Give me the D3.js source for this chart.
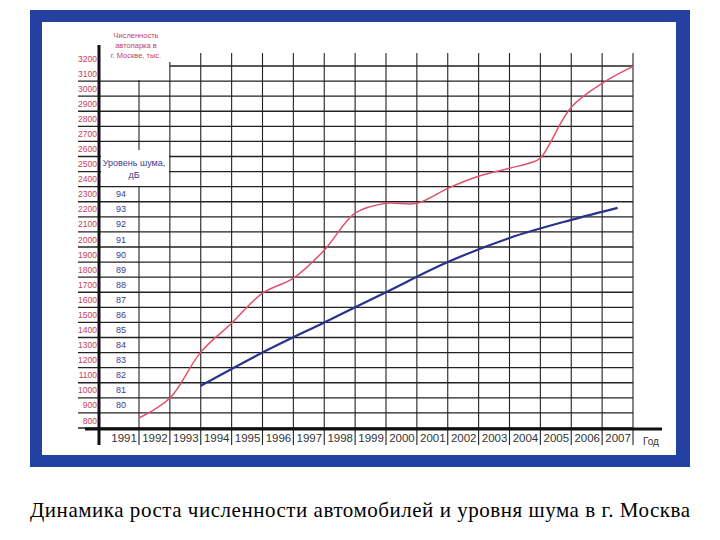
<!DOCTYPE html>
<html><head><meta charset="utf-8">
<script src="https://cdn.jsdelivr.net/npm/d3@7"></script>
<style>body{margin:0;background:#fff}</style></head>
<body><svg id="c" width="720" height="540"></svg>
<script>
const years=[1991,1992,1993,1994,1995,1996,1997,1998,1999,2000,2001,2002,2003,2004,2005,2006,2007];
const carTicks=[800,900,1000,1100,1200,1300,1400,1500,1600,1700,1800,1900,2000,2100,2200,2300,2400,2500,2600,2700,2800,2900,3000,3100,3200];
const noiseTicks=[80,81,82,83,84,85,86,87,88,89,90,91,92,93,94];
const carYears=[1991,1992,1993,1994,1995,1996,1997,1998,1999,2000,2001,2002,2003,2003.7,2004,2005,2006,2007];
const carValues=[866,999,1303,1495,1694,1793,1979,2224,2290,2290,2389,2469,2522,2560,2590,2926,3085,3197];
const noiseYears=[1993,1995,1997,1999,2001,2003,2005,2006.5];
const noiseValues=[81.8,84.0,86.0,88.0,90.0,91.6,92.8,93.6];

const svg=d3.select("#c");
svg.append("rect").attr("x",30).attr("y",10).attr("width",660).attr("height",457).attr("fill","#2440a0");
svg.append("rect").attr("x",42).attr("y",22).attr("width",634).attr("height",433).attr("fill","#fff");

const x=d3.scaleLinear().domain([1991,2007]).range([139,633]);
const y=d3.scaleLinear().domain([800,3200]).range([428,66]);
const yn=d3.scaleLinear().domain([80,94]).range([y(900),y(2300)]);
const g="#222";

carTicks.forEach(v=>{
  svg.append("line").attr("x1",v===3200?170:78).attr("x2",633).attr("y1",y(v)).attr("y2",y(v)).attr("stroke",g).attr("stroke-width",1.3);
});
years.forEach(yr=>{
  svg.append("line").attr("x1",x(yr)).attr("x2",x(yr)).attr("y1",yr===1991?80:53).attr("y2",445).attr("stroke",g).attr("stroke-width",1.1);
});
svg.append("rect").attr("x",101).attr("y",28).attr("width",78).attr("height",34).attr("fill","#fff");
svg.append("rect").attr("x",101).attr("y",150).attr("width",68).attr("height",36).attr("fill","#fff");
svg.append("line").attr("x1",99).attr("x2",99).attr("y1",45).attr("y2",445).attr("stroke","#111").attr("stroke-width",3);
svg.append("line").attr("x1",85).attr("x2",662).attr("y1",429).attr("y2",429).attr("stroke","#111").attr("stroke-width",3);

const ax=svg.append("g").attr("transform","translate(97,0)")
 .call(d3.axisLeft(y).tickValues(carTicks).tickSize(0).tickPadding(0).tickFormat(d3.format("d")));
ax.select(".domain").remove();
ax.selectAll("text").attr("dy",-5).attr("fill","#c8405a").attr("font-family","Liberation Sans, Arial").attr("font-size",8.5);
const an=svg.append("g").attr("transform","translate(121,0)")
 .call(d3.axisLeft(yn).tickValues(noiseTicks).tickSize(0).tickPadding(0));
an.select(".domain").remove();
an.selectAll("text").attr("text-anchor","middle").attr("dy",-5).attr("fill","#3c3c90").attr("font-family","Liberation Sans, Arial").attr("font-size",9);
const axx=svg.append("g").attr("transform","translate(-15.4,430)")
 .call(d3.axisBottom(x).tickValues(years).tickSize(0).tickPadding(4).tickFormat(d3.format("d")));
axx.select(".domain").remove();
axx.selectAll("text").attr("fill","#333").attr("font-family","Liberation Sans, Arial").attr("font-size",11.5);
svg.append("text").attr("x",651).attr("y",445).attr("text-anchor","middle").attr("fill","#333").attr("font-family","Liberation Sans, Arial").attr("font-size",10).text("Год");

const tt=svg.append("text").attr("fill","#c8405a").attr("font-family","Liberation Sans, Arial").attr("font-size",7.5).attr("text-anchor","middle");
["Численность","автопарка  в","г. Москве, тыс."].forEach((s,i)=>tt.append("tspan").attr("x",136).attr("y",38+i*10).text(s));
const tn=svg.append("text").attr("fill","#3c3c90").attr("font-family","Liberation Sans, Arial").attr("font-size",9).attr("text-anchor","middle");
["Уровень шума,","дБ"].forEach((s,i)=>tn.append("tspan").attr("x",134).attr("y",166+i*12).text(s));

svg.append("path").datum(carYears.map((d,i)=>[d,carValues[i]]))
 .attr("d",d3.line().x(d=>x(d[0])).y(d=>y(d[1])).curve(d3.curveCatmullRom))
 .attr("fill","none").attr("stroke","#e2506a").attr("stroke-width",1.5);
svg.append("path").datum(noiseYears.map((d,i)=>[d,noiseValues[i]]))
 .attr("d",d3.line().x(d=>x(d[0])).y(d=>yn(d[1])).curve(d3.curveMonotoneX))
 .attr("fill","none").attr("stroke","#26328c").attr("stroke-width",2.2);

svg.append("text").attr("x",360).attr("y",517).attr("text-anchor","middle").attr("textLength",660).attr("font-family","Liberation Serif, Times New Roman").attr("font-size",21).attr("fill","#000")
 .text("Динамика роста численности автомобилей и уровня шума в г. Москва");
</script></body></html>
